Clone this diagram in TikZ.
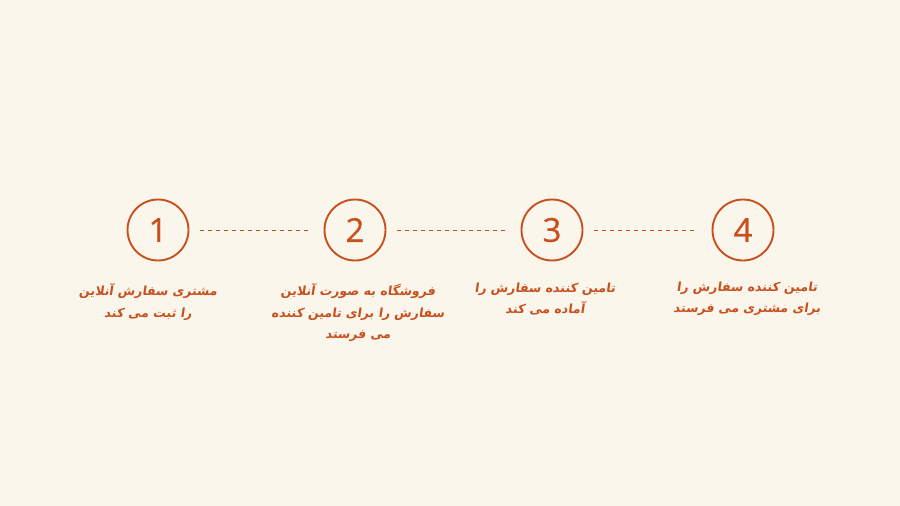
\documentclass[tikz,border=0pt]{standalone}
\usepackage{fontspec}
\usepackage{tikz}
\usetikzlibrary{arrows}
\TeXXeTstate=1
\newfontfamily\arabicfont[Script=Arabic,FakeSlant=0.15]{DejaVu Sans}
\newfontfamily\digitfont[FakeBold=0.6]{Open Sans}
\definecolor{rust}{HTML}{C8501E}
\definecolor{paper}{HTML}{FAF6EC}

\begin{document}
\begin{tikzpicture}[x=1pt,y=-1pt,
    stepring/.style={circle,draw=rust,line width=1.9pt,minimum size=61pt,inner sep=0pt,
      text=rust,font=\digitfont\fontsize{33}{33}\selectfont},
    steptext/.style={text=rust,align=center,font=\arabicfont\bfseries\fontsize{12.5}{21.5}\selectfont},
    link/.style={rust,line width=0.9pt,dash pattern=on 4pt off 4pt,shorten <=11pt,shorten >=15pt}]
    \fill[paper] (0,0) rectangle (900,506);
    \useasboundingbox (0,0) rectangle (900,506);

    \node[stepring] (c1) at (158,230) {1};
    \node[stepring] (c2) at (355,230) {2};
    \node[stepring] (c3) at (552,230) {3};
    \node[stepring] (c4) at (743,230) {4};

    \draw[link] (c1) -- (c2);
    \draw[link] (c2) -- (c3);
    \draw[link] (c3) -- (c4);

    \node[steptext] (t1) at (148,302) {\beginR مشتری سفارش آنلاین\endR\\ \beginR را ثبت می کند\endR};
    \node[steptext] (t2) at (358,313) {\beginR فروشگاه به صورت آنلاین\endR\\ \beginR سفارش را برای تامین کننده\endR\\ \beginR می فرستد\endR};
    \node[steptext] (t3) at (545,299) {\beginR تامین کننده سفارش را\endR\\ \beginR آماده می کند\endR};
    \node[steptext] (t4) at (747,299) {\beginR تامین کننده سفارش را\endR\\ \beginR برای مشتری می فرستد\endR};
\end{tikzpicture}
\end{document}
